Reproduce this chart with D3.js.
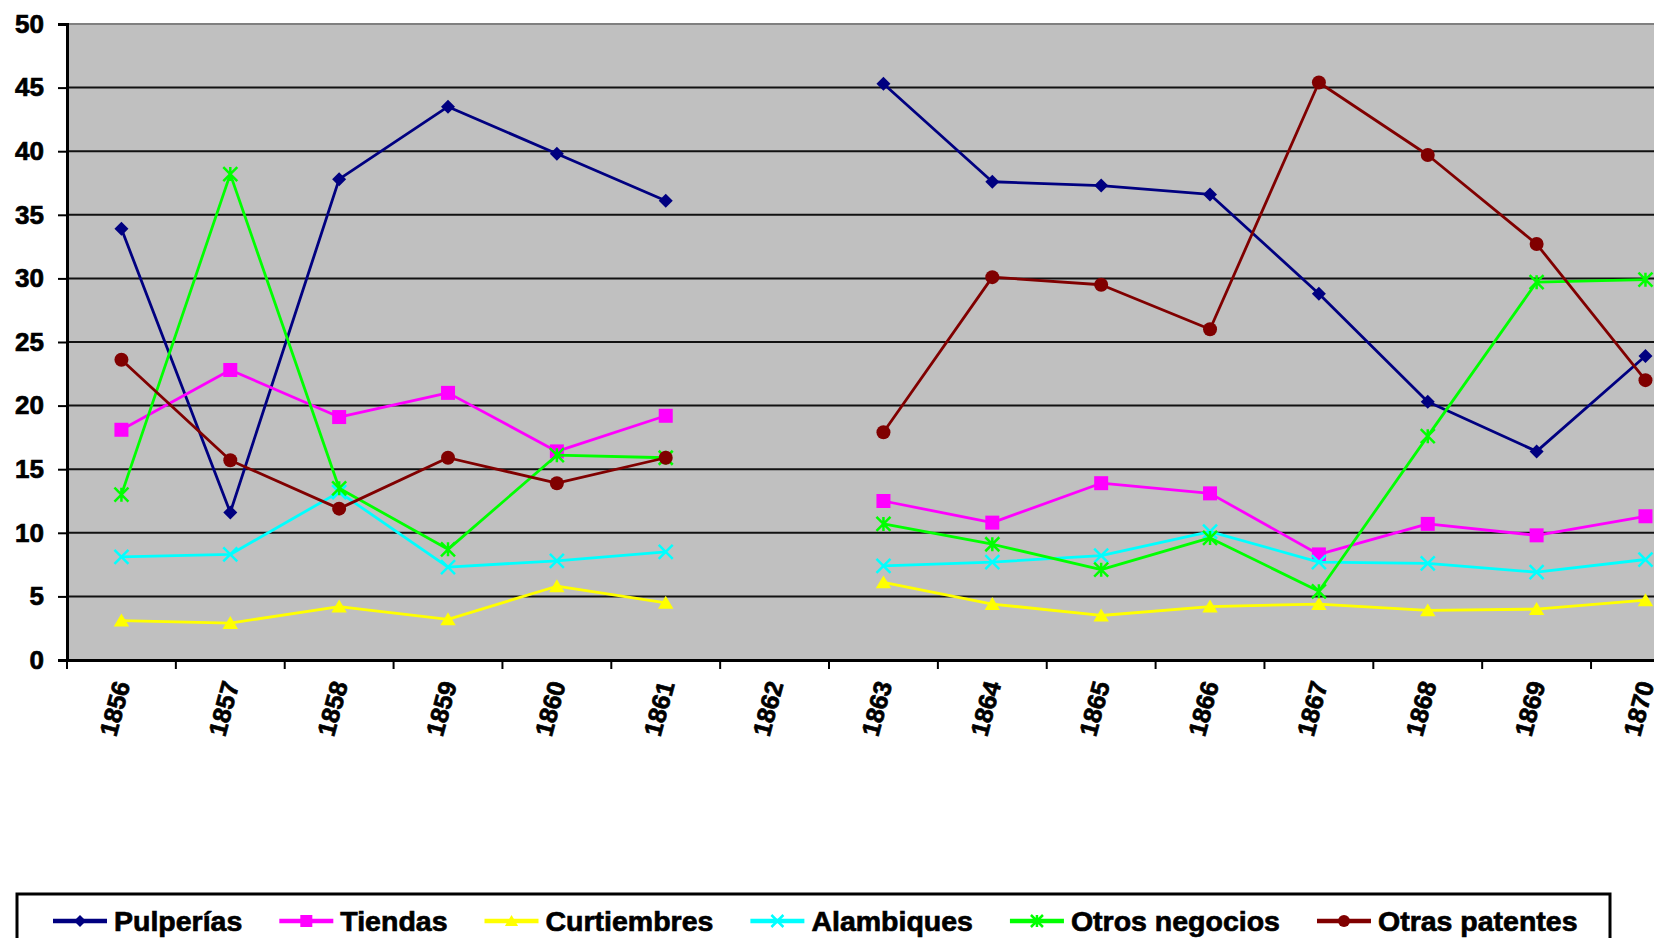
<!DOCTYPE html>
<html>
<head>
<meta charset="utf-8">
<script src="https://cdn.jsdelivr.net/npm/d3@7"></script>
<style>
  body { margin: 0; background: #ffffff; }
  svg { display: block; overflow: hidden; }
  text { font-family: 'Liberation Sans', Arial, sans-serif; font-weight: bold; }
</style>
</head>
<body>
<script>
var canvasWidth = 1654;
var canvasHeight = 938;

// data (1862 has no values)
var years = ['1856', '1857', '1858', '1859', '1860', '1861', '1862', '1863', '1864', '1865', '1866', '1867', '1868', '1869', '1870'];
var seriesNames = ['Pulperías', 'Tiendas', 'Curtiembres', 'Alambiques', 'Otros negocios', 'Otras patentes'];
var pulperias = [33.9, 11.6, 37.8, 43.5, 39.8, 36.1, null, 45.3, 37.6, 37.3, 36.6, 28.8, 20.3, 16.4, 23.9];
var tiendas = [18.1, 22.8, 19.1, 21.0, 16.4, 19.2, null, 12.5, 10.8, 13.9, 13.1, 8.3, 10.7, 9.8, 11.3];
var curtiembres = [3.1, 2.9, 4.2, 3.2, 5.8, 4.5, null, 6.1, 4.4, 3.5, 4.2, 4.4, 3.9, 4.0, 4.7];
var alambiques = [8.1, 8.3, 13.2, 7.3, 7.8, 8.5, null, 7.4, 7.7, 8.2, 10.1, 7.7, 7.6, 6.9, 7.9];
var otrosNegocios = [13.0, 38.2, 13.5, 8.7, 16.1, 15.9, null, 10.7, 9.1, 7.1, 9.6, 5.4, 17.6, 29.7, 29.9];
var otrasPatentes = [23.6, 15.7, 11.9, 15.9, 13.9, 15.9, null, 17.9, 30.1, 29.5, 26.0, 45.4, 39.7, 32.7, 22.0];
var yTicks = [0, 5, 10, 15, 20, 25, 30, 35, 40, 45, 50];

var colors = ['#000080', '#ff00ff', '#ffff00', '#00ffff', '#00ff00', '#800000'];
var shapes = ['diamond', 'square', 'triangle', 'cross', 'star', 'circle'];

var allValues = [pulperias, tiendas, curtiembres, alambiques, otrosNegocios, otrasPatentes];
var series = seriesNames.map(function (name, i) {
    return {
        name: name,
        color: colors[i],
        shape: shapes[i],
        values: years.map(function (y, j) { return { year: y, value: allValues[i][j] }; })
    };
});

var plotLeft = 67;
var plotTop = 24;
var plotBottom = 660;
var plotRight = 67 + 15 * 108.86; // runs past the right edge like the original

var svg = d3
    .select('body')
    .append('svg')
    .attr('width', canvasWidth)
    .attr('height', canvasHeight);

var xScale = d3.scaleBand().domain(years).range([plotLeft, plotRight]);
var yScale = d3.scaleLinear().domain([0, 50]).range([plotBottom, plotTop]);

// plot area
svg.append('rect')
    .attr('x', plotLeft)
    .attr('y', plotTop)
    .attr('width', plotRight - plotLeft)
    .attr('height', plotBottom - plotTop)
    .attr('fill', '#c0c0c0');

svg.append('line')
    .attr('x1', plotLeft).attr('x2', plotRight)
    .attr('y1', plotTop).attr('y2', plotTop)
    .attr('stroke', '#808080')
    .attr('stroke-width', 2);

// gridlines
svg.append('g')
    .selectAll('line')
    .data(yTicks.filter(function (d) { return d > 0 && d < 50; }))
    .enter()
    .append('line')
    .attr('x1', plotLeft)
    .attr('x2', plotRight)
    .attr('y1', function (d) { return yScale(d); })
    .attr('y2', function (d) { return yScale(d); })
    .attr('stroke', '#111')
    .attr('stroke-width', 2);

// y axis
var yAxis = svg.append('g')
    .attr('transform', 'translate(' + plotLeft + ',0)')
    .call(d3.axisLeft(yScale).tickValues(yTicks).tickSize(9).tickPadding(14));
yAxis.select('.domain').attr('stroke', '#000').attr('stroke-width', 3);
yAxis.selectAll('.tick line').attr('stroke', '#000').attr('stroke-width', 2);
yAxis.selectAll('.tick text')
    .attr('font-family', "'Liberation Sans', Arial, sans-serif")
    .attr('font-size', 26)
    .attr('font-weight', 'bold')
    .attr('fill', '#000')
    .attr('stroke', '#000')
    .attr('stroke-width', 0.7);

// x axis
var xAxis = svg.append('g')
    .attr('transform', 'translate(0,' + plotBottom + ')')
    .call(d3.axisBottom(xScale).tickSize(0).tickSizeOuter(0).tickFormat(''));
xAxis.select('.domain').attr('stroke', '#000').attr('stroke-width', 3);

svg.append('g')
    .selectAll('line')
    .data(years)
    .enter()
    .append('line')
    .attr('x1', function (d) { return xScale(d); })
    .attr('x2', function (d) { return xScale(d); })
    .attr('y1', plotBottom)
    .attr('y2', plotBottom + 9)
    .attr('stroke', '#000')
    .attr('stroke-width', 2);

svg.append('g')
    .selectAll('text')
    .data(years)
    .enter()
    .append('text')
    .attr('transform', function (d) {
        var cx = xScale(d) + xScale.bandwidth() / 2;
        return 'translate(' + (cx + 9) + ',' + (plotBottom + 24) + ') rotate(-75)';
    })
    .attr('text-anchor', 'end')
    .attr('font-size', 25)
    .attr('fill', '#000')
    .attr('stroke', '#000')
    .attr('stroke-width', 0.7)
    .text(function (d) { return d; });

// marker drawing
function drawMarker(g, shape, color, s) {
    if (shape === 'diamond') {
        g.append('path')
            .attr('d', 'M0,' + (-s) + 'L' + s + ',0L0,' + s + 'L' + (-s) + ',0Z')
            .attr('fill', color);
    } else if (shape === 'square') {
        g.append('rect')
            .attr('x', -s).attr('y', -s)
            .attr('width', 2 * s).attr('height', 2 * s)
            .attr('fill', color);
    } else if (shape === 'triangle') {
        g.append('path')
            .attr('d', 'M0,' + (-s) + 'L' + (s * 1.1) + ',' + (s * 0.85) + 'L' + (-s * 1.1) + ',' + (s * 0.85) + 'Z')
            .attr('fill', color);
    } else if (shape === 'cross') {
        g.append('path')
            .attr('d', 'M' + (-s) + ',' + (-s) + 'L' + s + ',' + s + 'M' + s + ',' + (-s) + 'L' + (-s) + ',' + s)
            .attr('stroke', color)
            .attr('stroke-width', 2.5);
    } else if (shape === 'star') {
        g.append('path')
            .attr('d', 'M' + (-s) + ',' + (-s) + 'L' + s + ',' + s + 'M' + s + ',' + (-s) + 'L' + (-s) + ',' + s + 'M0,' + (-s) + 'L0,' + s)
            .attr('stroke', color)
            .attr('stroke-width', 2.5);
    } else {
        g.append('circle').attr('r', s).attr('fill', color);
    }
}

var line = d3
    .line()
    .defined(function (d) { return d.value !== null; })
    .x(function (d) { return xScale(d.year) + xScale.bandwidth() / 2; })
    .y(function (d) { return yScale(d.value); });

var seriesG = svg.append('g')
    .selectAll('g')
    .data(series)
    .enter()
    .append('g');

seriesG.append('path')
    .attr('fill', 'none')
    .attr('stroke', function (d) { return d.color; })
    .attr('stroke-width', 2.8)
    .attr('stroke-linejoin', 'round')
    .attr('d', function (d) { return line(d.values); });

seriesG.each(function (s) {
    d3.select(this)
        .selectAll('.marker')
        .data(s.values.filter(function (d) { return d.value !== null; }))
        .enter()
        .append('g')
        .attr('class', 'marker')
        .attr('transform', function (d) {
            return 'translate(' + (xScale(d.year) + xScale.bandwidth() / 2) + ',' + yScale(d.value) + ')';
        })
        .each(function () {
            drawMarker(d3.select(this), s.shape, s.color, 7);
        });
});

// legend
var legendY = 921;
svg.append('rect')
    .attr('x', 17)
    .attr('y', 894)
    .attr('width', 1593)
    .attr('height', 80)
    .attr('fill', '#fff')
    .attr('stroke', '#000')
    .attr('stroke-width', 3);

var lx = 53;
series.forEach(function (s) {
    var item = svg.append('g');
    item.append('line')
        .attr('x1', lx).attr('x2', lx + 54)
        .attr('y1', legendY).attr('y2', legendY)
        .attr('stroke', s.color)
        .attr('stroke-width', 4.5);
    var m = item.append('g').attr('transform', 'translate(' + (lx + 27) + ',' + legendY + ')');
    drawMarker(m, s.shape, s.color, 6);
    var t = item.append('text')
        .attr('x', lx + 61)
        .attr('y', legendY + 10)
        .attr('font-size', 28.5)
        .attr('fill', '#000')
        .attr('stroke', '#000')
        .attr('stroke-width', 0.7)
        .text(s.name);
    lx = lx + 61 + t.node().getComputedTextLength() + 37;
});
</script>
</body>
</html>
